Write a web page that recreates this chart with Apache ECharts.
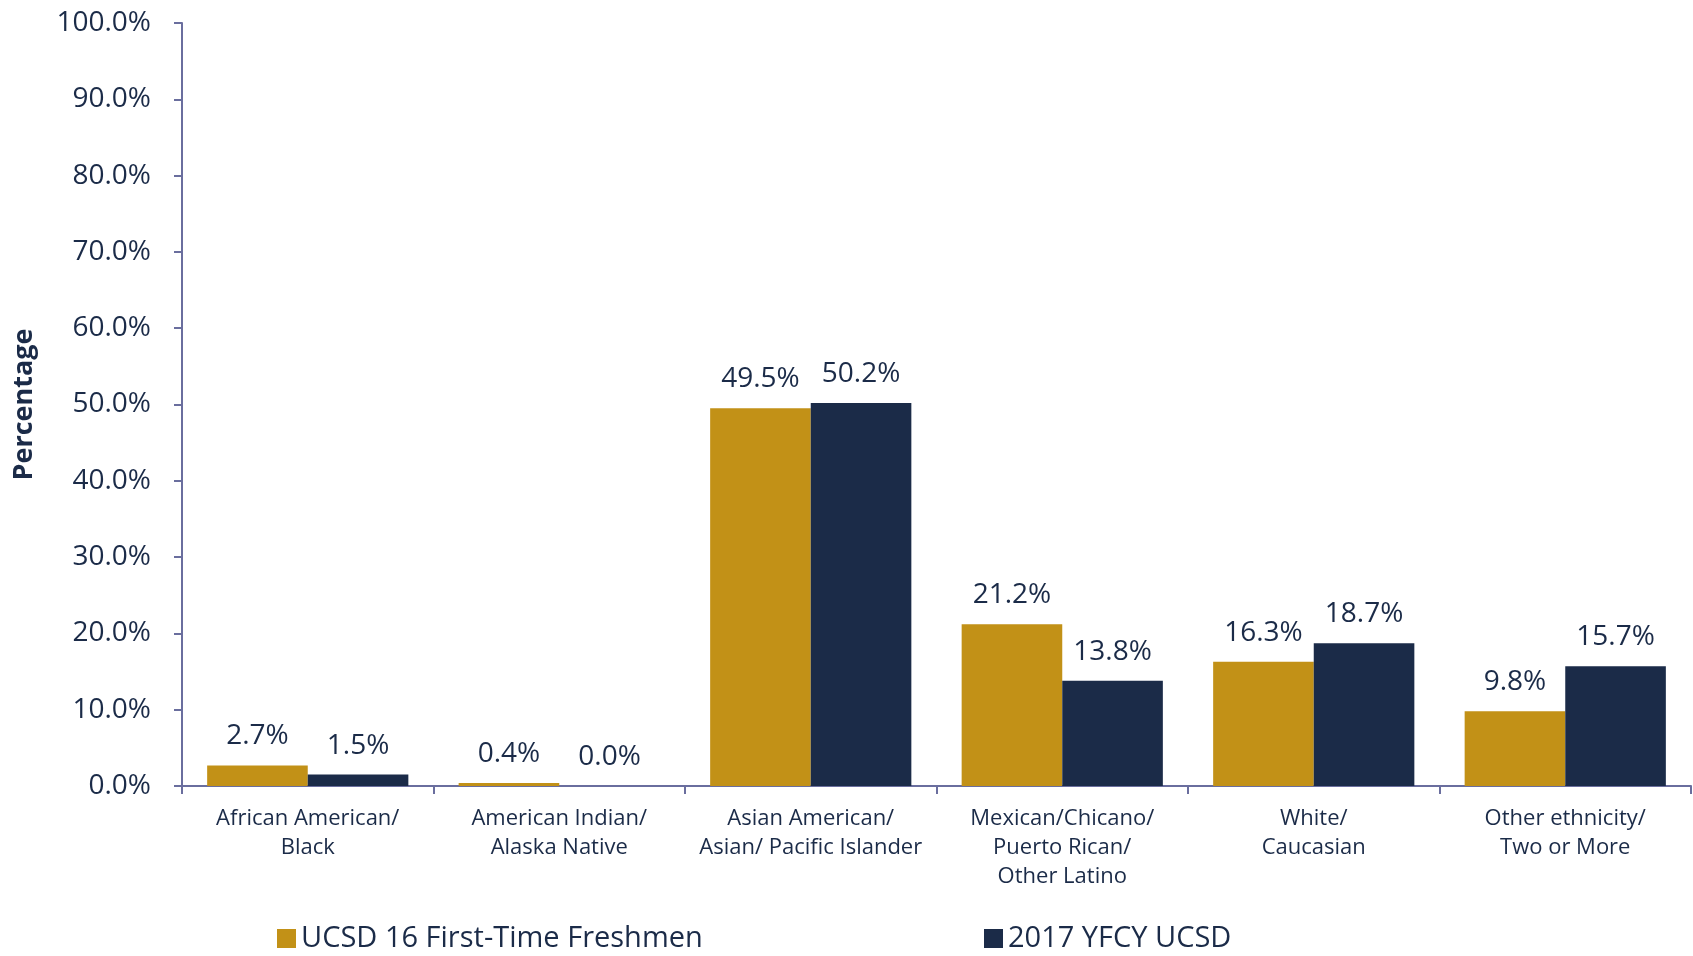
<!DOCTYPE html>
<html>
<head>
<meta charset="utf-8">
<script src="https://cdn.jsdelivr.net/npm/echarts@6/dist/echarts.min.js"></script>
<style>
  html, body { margin: 0; padding: 0; background: #fff; }
  #chart { width: 1693px; height: 956px; }
</style>
</head>
<body>
<div id="chart"></div>
<script>
const categories = [
  'African American/\nBlack',
  'American Indian/\nAlaska Native',
  'Asian American/\nAsian/ Pacific Islander',
  'Mexican/Chicano/\nPuerto Rican/\nOther Latino',
  'White/\nCaucasian',
  'Other ethnicity/\nTwo or More'
]
const freshmen16 = [2.7, 0.4, 49.5, 21.2, 16.3, 9.8]
const yfcy2017 = [1.5, 0.0, 50.2, 13.8, 18.7, 15.7]
const seriesNames = ['UCSD 16 First-Time Freshmen', '2017 YFCY UCSD']

const textColor = '#1b2b48'
const axisColor = '#6a6e9e'
const font = 'Open Sans'

const pct = v => Number(v).toFixed(1) + '%'

const barLabel = {
  show: true,
  position: 'top',
  distance: 15,
  color: textColor,
  fontFamily: font,
  fontSize: 28,
  formatter: p => pct(p.value)
}

const option = {
  animation: false,
  textStyle: { fontFamily: font, color: textColor },
  grid: { left: 182, right: 2, top: 23, bottom: 170 },
  legend: [
    {
      data: [seriesNames[0]],
      left: 272, top: 919,
      itemWidth: 19, itemHeight: 19, icon: 'rect',
      textStyle: { fontFamily: font, fontSize: 29, color: textColor }
    },
    {
      data: [seriesNames[1]],
      left: 979, top: 919,
      itemWidth: 19, itemHeight: 19, icon: 'rect',
      textStyle: { fontFamily: font, fontSize: 29, color: textColor }
    }
  ],
  xAxis: {
    type: 'category',
    data: categories,
    axisLine: { lineStyle: { color: axisColor, width: 2 } },
    axisTick: { show: true, length: 8, lineStyle: { color: axisColor, width: 2 } },
    axisLabel: {
      color: textColor, fontFamily: font, fontSize: 22,
      lineHeight: 29, margin: 18, interval: 0
    }
  },
  yAxis: {
    type: 'value',
    min: 0, max: 100, interval: 10,
    name: 'Percentage',
    nameLocation: 'middle',
    nameGap: 144,
    nameRotate: 90,
    nameTextStyle: { color: textColor, fontFamily: font, fontSize: 27, fontWeight: 'bold' },
    axisLine: { show: true, lineStyle: { color: axisColor, width: 2 } },
    axisTick: { show: true, length: 8, lineStyle: { color: axisColor, width: 2 } },
    splitLine: { show: false },
    axisLabel: {
      color: textColor, fontFamily: font, fontSize: 28, margin: 31,
      formatter: v => pct(v)
    }
  },
  series: [
    {
      name: seriesNames[0],
      type: 'bar',
      data: freshmen16,
      barGap: '0%',
      barCategoryGap: '20%',
      itemStyle: { color: '#c29117' },
      label: barLabel
    },
    {
      name: seriesNames[1],
      type: 'bar',
      data: yfcy2017,
      itemStyle: { color: '#1b2b48' },
      label: barLabel
    }
  ]
}

const myChart = echarts.init(document.getElementById('chart'), null, { renderer: 'canvas' })
myChart.setOption(option)
</script>
</body>
</html>
